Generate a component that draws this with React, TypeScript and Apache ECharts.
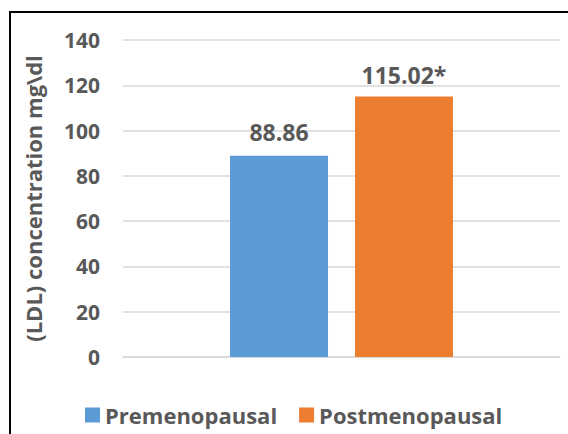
import React, { useEffect, useRef } from "react";
import * as echarts from "echarts";

const categories = ["LDL"];
const seriesNames = ["Premenopausal", "Postmenopausal"];
const premenopausal = [88.86];
const postmenopausal = [115.02];
const valueLabels = ["88.86", "115.02*"];
const yAxisName = "(LDL) concentration mg\\dl";

const FONT = "Open Sans";
const GRAY = "#595959";

export default function App() {
  const ref = useRef<HTMLDivElement>(null);
  useEffect(() => {
    document.body.style.margin = "0";
    const chart = echarts.init(ref.current!, null, { renderer: "svg" });
    chart.setOption({
      animation: false,
      backgroundColor: "#ffffff",
      textStyle: { fontFamily: FONT },
      graphic: [
        {
          type: "rect",
          shape: { x: 10, y: 12, width: 700, height: 600 },
          style: { fill: "none", stroke: "#000000", lineWidth: 2 },
          silent: true,
        },
      ],
      legend: {
        data: seriesNames,
        left: 80,
        top: 399,
        itemWidth: 15,
        itemHeight: 15,
        itemGap: 22,
        icon: "rect",
        textStyle: { fontFamily: FONT, fontSize: 22, fontWeight: "bold", color: GRAY },
      },
      grid: { left: 123, right: 8, top: 40, bottom: 77, containLabel: false },
      xAxis: {
        type: "category",
        data: categories,
        axisLine: { show: true, lineStyle: { color: "#d9d9d9", width: 1.5 } },
        axisTick: { show: false },
        axisLabel: { show: false },
      },
      yAxis: {
        type: "value",
        min: 0,
        max: 140,
        interval: 20,
        name: yAxisName,
        nameLocation: "middle",
        nameGap: 79,
        nameRotate: 90,
        nameTextStyle: { fontFamily: FONT, fontSize: 22, fontWeight: "bold", color: GRAY },
        axisLine: { show: false },
        axisTick: { show: false },
        axisLabel: { margin: 23, fontFamily: FONT, fontSize: 21, fontWeight: "bold", color: GRAY },
        splitLine: { lineStyle: { color: "#d9d9d9", width: 1.5 } },
      },
      series: [
        {
          name: seriesNames[0],
          type: "bar",
          data: premenopausal,
          barWidth: 98,
          barGap: "27.5%",
          itemStyle: { color: "#5b9bd5" },
          label: {
            show: true,
            position: "top",
            distance: 12,
            formatter: () => valueLabels[0],
            fontFamily: FONT,
            fontSize: 23,
            fontWeight: "bold",
            color: GRAY,
          },
        },
        {
          name: seriesNames[1],
          type: "bar",
          data: postmenopausal,
          barWidth: 98,
          barGap: "27.5%",
          itemStyle: { color: "#ed7d31" },
          label: {
            show: true,
            position: "top",
            distance: 10,
            formatter: () => valueLabels[1],
            fontFamily: FONT,
            fontSize: 23,
            fontWeight: "bold",
            color: GRAY,
          },
        },
      ],
    });
    return () => chart.dispose();
  }, []);
  return (
    <div
      ref={ref}
      style={{ position: "absolute", left: 0, top: 0, width: 568, height: 434 }}
    />
  );
}
